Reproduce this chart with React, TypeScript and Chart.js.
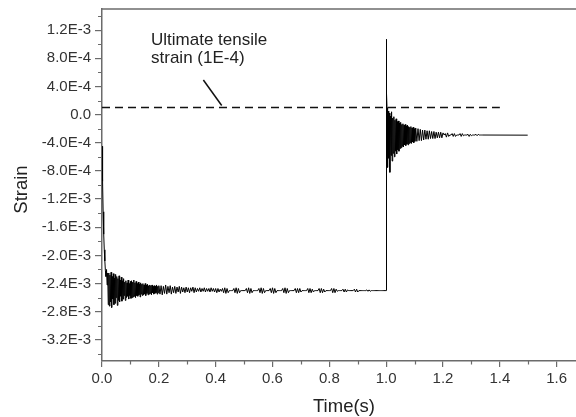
import React, { useEffect, useRef } from "react";
import { Chart, registerables } from "chart.js";

Chart.register(...registerables);

// ---- Axis ticks ----
const xTickValues = [0, 0.2, 0.4, 0.6, 0.8, 1.0, 1.2, 1.4, 1.6];
const xTickLabels = ["0.0", "0.2", "0.4", "0.6", "0.8", "1.0", "1.2", "1.4", "1.6"];
const xMinorTicks = [0.1, 0.3, 0.5, 0.7, 0.9, 1.1, 1.3, 1.5];
const yTickValues = [1.2, 0.8, 0.4, 0, -0.4, -0.8, -1.2, -1.6, -2.0, -2.4, -2.8, -3.2];
const yTickLabels = ["1.2E-3", "8.0E-4", "4.0E-4", "0.0", "-4.0E-4", "-8.0E-4", "-1.2E-3", "-1.6E-3", "-2.0E-3", "-2.4E-3", "-2.8E-3", "-3.2E-3"];
const yMinorTicks = [1.4, 1.0, 0.6, 0.2, -0.2, -0.6, -1.0, -1.4, -1.8, -2.2, -2.6, -3.0, -3.4];

// ---- Strain record (units of 1E-3), sampled segments ----
// initial drop, t = 0 .. 0.020 every 0.002 s
const dropStrain = [-0.45, -0.95, -1.38, -1.70, -1.92, -2.08, -2.22, -2.30, -2.20, -2.42, -2.25];
// strong oscillation, t = 0.022 .. 0.100 every 0.002 s
const oscStrainA = [-2.70, -2.25, -2.72, -2.28, -2.66, -2.24, -2.74, -2.30, -2.62, -2.26, -2.70, -2.32, -2.68, -2.27, -2.60, -2.30, -2.71, -2.33, -2.64, -2.29, -2.66, -2.35, -2.58, -2.31, -2.65, -2.36, -2.62, -2.33, -2.57, -2.38, -2.64, -2.36, -2.60, -2.39, -2.58, -2.35, -2.62, -2.40, -2.57, -2.37];
// decaying oscillation, t = 0.102 .. 0.200 every 0.002 s
const oscStrainB = [-2.61, -2.36, -2.60, -2.38, -2.59, -2.35, -2.58, -2.39, -2.60, -2.37, -2.57, -2.40, -2.58, -2.38, -2.56, -2.41, -2.59, -2.39, -2.55, -2.41, -2.57, -2.40, -2.56, -2.42, -2.55, -2.40, -2.57, -2.42, -2.54, -2.41, -2.56, -2.43, -2.55, -2.42, -2.54, -2.43, -2.56, -2.42, -2.53, -2.44, -2.55, -2.43, -2.54, -2.44, -2.53, -2.42, -2.55, -2.44, -2.53, -2.43];
// small oscillation, t = 0.204 .. 0.400 every 0.004 s
const oscStrainC = [-2.55, -2.43, -2.56, -2.44, -2.54, -2.42, -2.55, -2.44, -2.53, -2.43, -2.55, -2.45, -2.53, -2.44, -2.54, -2.45, -2.52, -2.44, -2.54, -2.45, -2.52, -2.46, -2.53, -2.45, -2.52, -2.46, -2.53, -2.46, -2.51, -2.45, -2.53, -2.46, -2.52, -2.47, -2.51, -2.46, -2.52, -2.47, -2.51, -2.46, -2.52, -2.47, -2.51, -2.47, -2.52, -2.46, -2.51, -2.47, -2.52, -2.47];
// beating steady state, t = 0.404 .. 1.000 every 0.004 s
const steadyStrain = [
  -2.53, -2.47, -2.52, -2.48, -2.51, -2.47, -2.53, -2.46, -2.54, -2.47,
  -2.53, -2.50, -2.50, -2.50, -2.50, -2.47, -2.53, -2.46, -2.54, -2.47,
  -2.53, -2.50, -2.50, -2.50, -2.50, -2.50, -2.47, -2.53, -2.46, -2.54,
  -2.47, -2.53, -2.50, -2.50, -2.50, -2.50, -2.50, -2.47, -2.53, -2.46,
  -2.54, -2.47, -2.53, -2.50, -2.50, -2.50, -2.50, -2.47, -2.53, -2.46,
  -2.54, -2.47, -2.53, -2.50, -2.50, -2.50, -2.50, -2.50, -2.47, -2.53,
  -2.46, -2.54, -2.47, -2.53, -2.50, -2.50, -2.50, -2.50, -2.50, -2.47,
  -2.53, -2.47, -2.53, -2.47, -2.52, -2.50, -2.50, -2.50, -2.50, -2.50,
  -2.47, -2.53, -2.47, -2.53, -2.48, -2.52, -2.50, -2.50, -2.50, -2.50,
  -2.47, -2.53, -2.47, -2.53, -2.48, -2.52, -2.50, -2.50, -2.50, -2.50,
  -2.50, -2.47, -2.53, -2.47, -2.53, -2.48, -2.51, -2.50, -2.50, -2.50,
  -2.50, -2.48, -2.52, -2.48, -2.52, -2.49, -2.50, -2.50, -2.50, -2.50,
  -2.50, -2.48, -2.52, -2.48, -2.52, -2.50, -2.50, -2.50, -2.50, -2.50,
  -2.50, -2.50, -2.49, -2.51, -2.49, -2.51, -2.50, -2.50, -2.50, -2.50,
  -2.50, -2.50, -2.50, -2.50, -2.50, -2.50, -2.50, -2.50, -2.50, -2.50,
];
// unloading spike
const spikeTimes = [1.0004, 1.0008, 1.0012, 1.0016, 1.002];
const spikeStrain = [1.07, -1.02, 0.86, -0.95, 0.30];
// ringing after unloading, t = 1.003 .. 1.101 every 0.002 s
const ringStrainA = [0.10, -0.75, 0.05, -0.62, 0.02, -0.82, -0.02, -0.58, 0.04, -0.66, -0.05, -0.55, -0.03, -0.60, -0.08, -0.52, -0.06, -0.56, -0.10, -0.50, -0.09, -0.52, -0.12, -0.48, -0.11, -0.47, -0.14, -0.45, -0.13, -0.46, -0.15, -0.43, -0.14, -0.44, -0.16, -0.42, -0.15, -0.43, -0.17, -0.41, -0.18, -0.40, -0.17, -0.41, -0.19, -0.39, -0.18, -0.40, -0.20, -0.38];
// t = 1.104 .. 1.200 every 0.004 s
const ringStrainB = [-0.19, -0.38, -0.20, -0.37, -0.21, -0.37, -0.22, -0.36, -0.22, -0.35, -0.23, -0.35, -0.23, -0.34, -0.24, -0.34, -0.24, -0.34, -0.25, -0.33, -0.25, -0.33, -0.25, -0.33, -0.26];
// t = 1.204 .. 1.336 every 0.004 s
const ringStrainC = [-0.29, -0.27, -0.32, -0.26, -0.31, -0.29, -0.29, -0.27, -0.31, -0.27, -0.31, -0.29, -0.29, -0.29, -0.27, -0.31, -0.27, -0.30, -0.29, -0.29, -0.29, -0.28, -0.31, -0.28, -0.30, -0.29, -0.29, -0.29, -0.28, -0.30, -0.28, -0.29, -0.29, -0.29];
const tailTimes = [1.34, 1.498];
const tailStrain = [-0.29, -0.292];

// Ultimate tensile strain threshold (1E-4)
const thresholdTimes = [0, 1.4];
const thresholdStrain = [0.1, 0.1];

const sampled = (start: number, step: number, vals: number[]) =>
  vals.map((v, i) => ({ x: start + i * step, y: v }));
const paired = (ts: number[], vs: number[]) => ts.map((t, i) => ({ x: t, y: vs[i] }));

const strainData = [
  ...sampled(0, 0.002, dropStrain),
  ...sampled(0.022, 0.002, oscStrainA),
  ...sampled(0.102, 0.002, oscStrainB),
  ...sampled(0.204, 0.004, oscStrainC),
  ...sampled(0.404, 0.004, steadyStrain),
  ...paired(spikeTimes, spikeStrain),
  ...sampled(1.003, 0.002, ringStrainA),
  ...sampled(1.104, 0.004, ringStrainB),
  ...sampled(1.204, 0.004, ringStrainC),
  ...paired(tailTimes, tailStrain),
];

const FONT = '"Liberation Sans", Arial, Helvetica, sans-serif';
const AXIS_COLOR = "#6b6b6b";
const TEXT_COLOR = "#222";

const overlay = {
  id: "overlay",
  afterDraw(chart: any) {
    const { ctx, chartArea: a, scales } = chart;
    const x = scales.x;
    const y = scales.y;
    ctx.save();
    ctx.strokeStyle = AXIS_COLOR;
    ctx.lineWidth = 1.5;
    ctx.beginPath();
    ctx.moveTo(a.left - 0.75, a.top);
    ctx.lineTo(a.right, a.top);
    ctx.stroke();
    ctx.lineWidth = 1.2;
    ctx.beginPath();
    xMinorTicks.forEach((v) => {
      const px = Math.round(x.getPixelForValue(v)) + 0.5;
      ctx.moveTo(px, a.bottom);
      ctx.lineTo(px, a.bottom + 3.5);
    });
    yMinorTicks.forEach((v) => {
      const py = Math.round(y.getPixelForValue(v)) + 0.5;
      ctx.moveTo(a.left - 4, py);
      ctx.lineTo(a.left, py);
    });
    ctx.stroke();

    // axis titles
    ctx.fillStyle = TEXT_COLOR;
    ctx.font = `18.5px ${FONT}`;
    ctx.textAlign = "center";
    ctx.textBaseline = "alphabetic";
    ctx.fillText("Time(s)", 344, 411.5);
    ctx.save();
    ctx.translate(26.5, 189.5);
    ctx.rotate(-Math.PI / 2);
    ctx.fillText("Strain", 0, 0);
    ctx.restore();

    // annotation
    ctx.font = `17px ${FONT}`;
    ctx.textAlign = "left";
    const tx = x.getPixelForValue(0.1725);
    ctx.fillText("Ultimate tensile", tx, y.getPixelForValue(0.989));
    ctx.fillText("strain (1E-4)", tx, y.getPixelForValue(0.729));
    ctx.strokeStyle = "#111";
    ctx.lineWidth = 1.5;
    ctx.beginPath();
    ctx.moveTo(x.getPixelForValue(0.3567), y.getPixelForValue(0.491));
    ctx.lineTo(x.getPixelForValue(0.4212), y.getPixelForValue(0.13));
    ctx.stroke();
    ctx.restore();
  },
};

export default function App() {
  const ref = useRef<HTMLCanvasElement | null>(null);
  useEffect(() => {
    if (!ref.current) return;
    const chart = new Chart(ref.current, {
      type: "line",
      data: {
        datasets: [
          {
            data: paired(thresholdTimes, thresholdStrain),
            borderColor: "#111",
            borderWidth: 1.5,
            borderDash: [8, 5],
            pointRadius: 0,
            tension: 0,
          },
          {
            data: strainData,
            borderColor: "#000",
            borderWidth: 1,
            pointRadius: 0,
            tension: 0,
          },
        ],
      },
      plugins: [overlay],
      options: {
        responsive: false,
        animation: false,
        devicePixelRatio: 1,
        layout: { padding: { top: 9, right: 0, left: 0, bottom: 0 } },
        plugins: { legend: { display: false }, tooltip: { enabled: false } },
        scales: {
          x: {
            type: "linear",
            min: 0,
            max: 1.668,
            afterBuildTicks: (s: any) => {
              s.ticks = xTickValues.map((v) => ({ value: v }));
            },
            afterFit: (s: any) => {
              s.height = 56;
              s.paddingLeft = 0;
              s.paddingRight = 0;
            },
            ticks: {
              autoSkip: false,
              maxRotation: 0,
              padding: 3,
              color: "#333",
              font: { family: FONT, size: 15 },
              callback: (v: any) => {
                const i = xTickValues.findIndex((t) => Math.abs(t - Number(v)) < 1e-9);
                return i >= 0 ? xTickLabels[i] : "";
              },
            },
            grid: { display: true, drawOnChartArea: false, drawTicks: true, tickLength: 6, color: AXIS_COLOR, lineWidth: 1.2 },
            border: { display: true, color: AXIS_COLOR, width: 1.5 },
          },
          y: {
            type: "linear",
            min: -3.5,
            max: 1.5,
            afterBuildTicks: (s: any) => {
              s.ticks = yTickValues.map((v) => ({ value: v }));
            },
            afterFit: (s: any) => {
              s.width = 102;
              s.paddingTop = 0;
              s.paddingBottom = 0;
            },
            ticks: {
              autoSkip: false,
              padding: 4,
              color: "#333",
              font: { family: FONT, size: 15 },
              callback: (v: any) => {
                const i = yTickValues.findIndex((t) => Math.abs(t - Number(v)) < 1e-9);
                return i >= 0 ? yTickLabels[i] : "";
              },
            },
            grid: { display: true, drawOnChartArea: false, drawTicks: true, tickLength: 7, color: AXIS_COLOR, lineWidth: 1.2 },
            border: { display: true, color: AXIS_COLOR, width: 1.5 },
          },
        },
      },
    });
    return () => chart.destroy();
  }, []);
  return (
    <div style={{ position: "absolute", left: 0, top: 0, width: 576, height: 417, background: "#fff" }}>
      <canvas ref={ref} width={576} height={417} />
    </div>
  );
}
